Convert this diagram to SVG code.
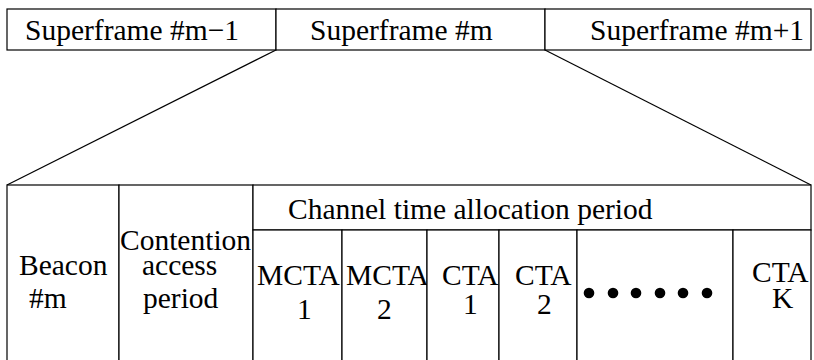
<svg xmlns="http://www.w3.org/2000/svg" width="814" height="360" viewBox="0 0 814 360" font-family="'Liberation Serif', 'Times New Roman', 'DejaVu Serif', serif">
  <style>
    .box { fill: #fff; stroke: #000; stroke-width: 1.2; }
    .ln { stroke: #000; stroke-width: 1.2; fill: none; }
    .t { font-family: 'Liberation Serif', 'Times New Roman', 'DejaVu Serif', serif; font-size: 29.5px; fill: #000; }
    .dot { fill: #000; }
  </style>

  <!-- superframe sequence -->
  <g id="superframe-prev">
    <rect class="box" x="7" y="9" width="269" height="41"/>
    <text class="t" x="25" y="40">Superframe #m−1</text>
  </g>
  <g id="superframe-current">
    <rect class="box" x="276" y="9" width="269" height="41"/>
    <text class="t" x="310" y="40">Superframe #m</text>
  </g>
  <g id="superframe-next">
    <rect class="box" x="545" y="9" width="266" height="41"/>
    <text class="t" x="590" y="40">Superframe #m+1</text>
  </g>

  <!-- expansion lines from the current superframe -->
  <g id="connectors">
    <line class="ln" x1="276" y1="50" x2="7" y2="185"/>
    <line class="ln" x1="545" y1="50" x2="811" y2="185"/>
  </g>

  <!-- superframe structure -->
  <g id="beacon">
    <rect class="box" x="7" y="185" width="112" height="180"/>
    <text class="t" x="19" y="275">Beacon</text>
    <text class="t" x="29" y="308">#m</text>
  </g>
  <g id="cap">
    <rect class="box" x="119" y="185" width="134" height="180"/>
    <text class="t" x="120" y="250">Contention</text>
    <text class="t" x="142" y="275">access</text>
    <text class="t" x="143" y="308">period</text>
  </g>
  <g id="ctap">
    <rect class="box" x="253" y="185" width="558" height="45"/>
    <text class="t" x="288" y="219">Channel time allocation period</text>
  </g>
  <g id="mcta1">
    <rect class="box" x="253" y="230" width="89" height="135"/>
    <text class="t" x="257" y="285">MCTA</text>
    <text class="t" x="297" y="319">1</text>
  </g>
  <g id="mcta2">
    <rect class="box" x="342" y="230" width="85" height="135"/>
    <text class="t" x="346" y="285">MCTA</text>
    <text class="t" x="377" y="319">2</text>
  </g>
  <g id="cta1">
    <rect class="box" x="427" y="230" width="72" height="135"/>
    <text class="t" x="442" y="285">CTA</text>
    <text class="t" x="463" y="314">1</text>
  </g>
  <g id="cta2">
    <rect class="box" x="499" y="230" width="78" height="135"/>
    <text class="t" x="515" y="285">CTA</text>
    <text class="t" x="537" y="314">2</text>
  </g>
  <g id="ellipsis">
    <rect class="box" x="577" y="230" width="156" height="135"/>
    <circle class="dot" cx="589" cy="293" r="5.3"/>
    <circle class="dot" cx="613" cy="293" r="5.3"/>
    <circle class="dot" cx="636" cy="293" r="5.3"/>
    <circle class="dot" cx="660" cy="293" r="5.3"/>
    <circle class="dot" cx="683" cy="293" r="5.3"/>
    <circle class="dot" cx="707" cy="293" r="5.3"/>
  </g>
  <g id="ctak">
    <rect class="box" x="733" y="230" width="78" height="135"/>
    <text class="t" x="752" y="282">CTA</text>
    <text class="t" x="772" y="308">K</text>
  </g>
</svg>
